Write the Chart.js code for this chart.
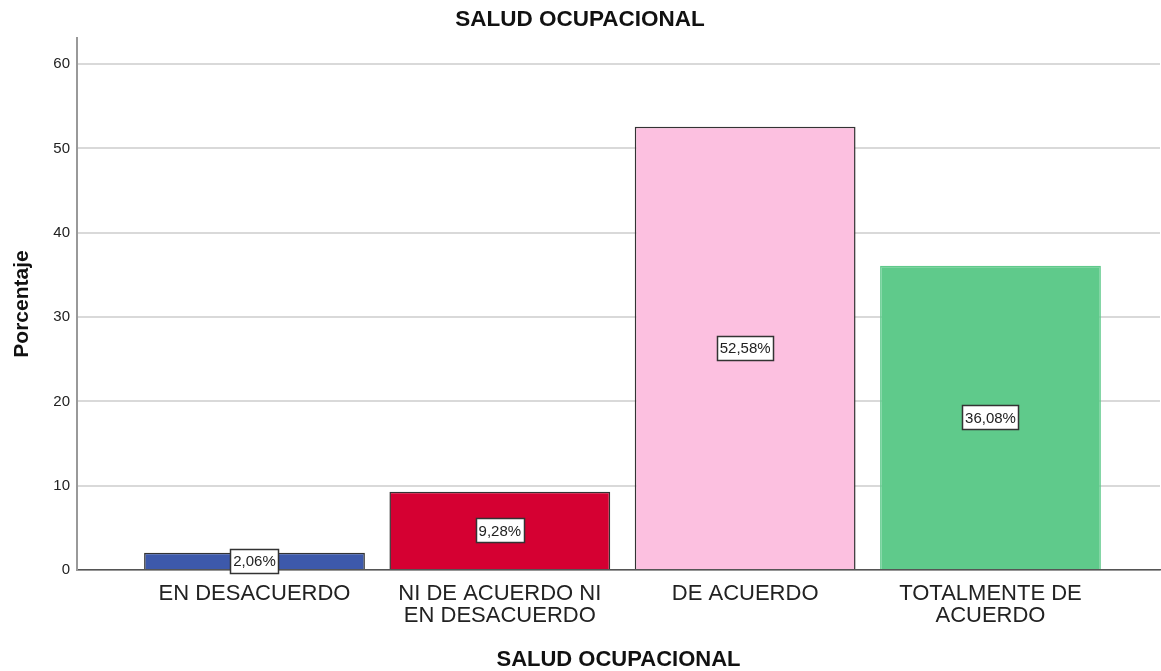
<!DOCTYPE html>
<html>
<head>
<meta charset="utf-8">
<script src="https://cdn.jsdelivr.net/npm/chart.js@4/dist/chart.umd.min.js"></script>
<style>
html,body{margin:0;padding:0;background:#fff;}
#wrap{width:1161px;height:671px;position:relative;}
</style>
</head>
<body>
<div id="wrap"><canvas id="c"></canvas></div>
<script>
const categories = ["EN DESACUERDO", "NI DE ACUERDO NI EN DESACUERDO", "DE ACUERDO", "TOTALMENTE DE ACUERDO"];
const tickLabels = [["EN DESACUERDO"], ["NI DE ACUERDO NI", "EN DESACUERDO"], ["DE ACUERDO"], ["TOTALMENTE DE", "ACUERDO"]];
const percentages = [2.06, 9.28, 52.58, 36.08];
const barColors = ["#3D59AB", "#D50032", "#FCC0E0", "#5FCA8B"];
const barBorders = ["#333333", "#333333", "#333333", "#5FCA8B"];
const yTicks = [0, 10, 20, 30, 40, 50, 60];

const FONT = "'Liberation Sans', Arial, sans-serif";

const points = percentages.map((v, i) => ({x: i, y: v}));

const labelPlugin = {
  id: 'boxLabels',
  afterDatasetsDraw(chart) {
    const ctx = chart.ctx;
    const meta = chart.getDatasetMeta(0);
    ctx.save();
    ctx.font = "15px " + FONT;
    ctx.textAlign = 'center';
    ctx.textBaseline = 'middle';
    meta.data.forEach((el, i) => {
      const txt = percentages[i].toFixed(2).replace('.', ',') + '%';
      const cx = el.x;
      const cy = (el.y + el.base) / 2;
      const w = Math.round(ctx.measureText(txt).width + 5);
      const h = 24;
      const x0 = Math.round(cx - w / 2) + 0.5;
      const y0 = Math.round(cy - h / 2) + 0.5;
      ctx.fillStyle = '#ffffff';
      ctx.fillRect(x0, y0, w, h);
      ctx.strokeStyle = '#333333';
      ctx.lineWidth = 1.5;
      ctx.strokeRect(x0, y0, w, h);
      ctx.fillStyle = '#222222';
      ctx.fillText(txt, cx, cy + 1);
    });
    ctx.restore();
  }
};

new Chart(document.getElementById('c'), {
  type: 'bar',
  data: {
    datasets: [{
      label: 'Porcentaje',
      data: points,
      backgroundColor: barColors,
      borderColor: barBorders,
      borderWidth: 1.5,
      barPercentage: 0.9,
      categoryPercentage: 1
    }]
  },
  options: {
    responsive: true,
    maintainAspectRatio: false,
    animation: false,
    layout: {padding: {left: 0, right: 1, top: 0, bottom: 0}},
    plugins: {
      legend: {display: false},
      tooltip: {enabled: false},
      title: {
        display: true,
        text: 'SALUD OCUPACIONAL',
        color: '#111',
        font: {family: FONT, size: 22.5, weight: 'bold', lineHeight: 1.2},
        padding: {top: 6, bottom: 5}
      }
    },
    scales: {
      x: {
        type: 'linear',
        offset: false,
        min: -0.7235,
        max: 3.691,
        afterBuildTicks: (s) => { s.ticks = categories.map((c, i) => ({value: i})); },
        afterFit: (s) => { s.height = 101; },
        ticks: {
          color: '#222',
          font: {family: FONT, size: 22, lineHeight: 1.0},
          padding: 13,
          maxRotation: 0,
          autoSkip: false,
          callback: (v) => tickLabels[v] || ''
        },
        grid: {display: false, drawTicks: false, offset: false},
        border: {display: true, color: '#555555', width: 1.5},
        title: {
          display: true,
          text: 'SALUD OCUPACIONAL',
          color: '#111',
          font: {family: FONT, size: 22, weight: 'bold', lineHeight: 1},
          padding: {top: 0, bottom: 0}
        }
      },
      y: {
        min: 0,
        max: 63.1,
        afterBuildTicks: (s) => { s.ticks = yTicks.map(v => ({value: v})); },
        afterFit: (s) => { s.width = 77; },
        ticks: {
          color: '#222',
          font: {family: FONT, size: 15},
          padding: 7,
          callback: (v) => String(v)
        },
        grid: {color: '#d9d9d9', lineWidth: 2, drawTicks: false},
        border: {display: true, color: '#999999', width: 2},
        title: {
          display: true,
          text: 'Porcentaje',
          color: '#111',
          font: {family: FONT, size: 21, weight: 'bold', lineHeight: 1},
          padding: {top: 12, bottom: 0}
        }
      }
    }
  },
  plugins: [labelPlugin]
});
</script>
</body>
</html>
